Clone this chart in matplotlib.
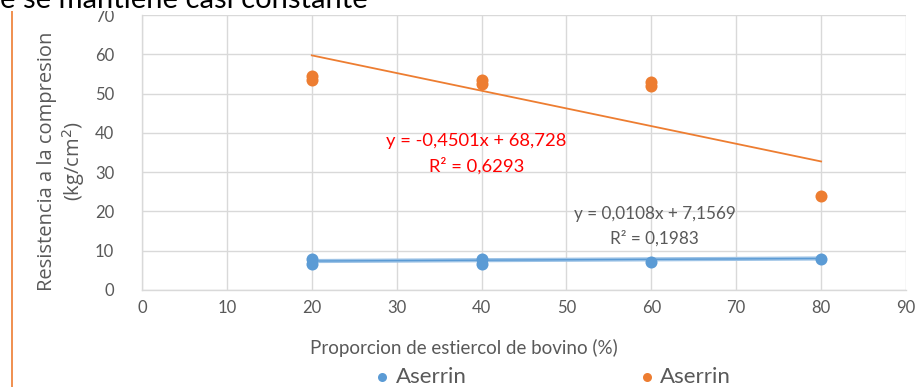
import matplotlib
matplotlib.use("Agg")
import matplotlib.pyplot as plt
import matplotlib.patches as mpatches
import numpy as np

plt.rcParams['font.family'] = ['Lato', 'DejaVu Sans']

# Data
x_blue = [20, 20, 40, 40, 60, 80]
y_blue = [6.6, 8.0, 6.6, 8.0, 7.1, 8.0]
x_orange = [20, 20, 40, 40, 60, 60, 80]
y_orange = [53.5, 54.5, 52.5, 53.5, 52.0, 53.0, 24.0]
trend_orange = (-0.4501, 68.728)
trend_blue = (0.0108, 7.1569)
trend_x = [20, 80]
eq_orange = ["y = -0,4501x + 68,728", "R² = 0,6293"]
eq_blue = ["y = 0,0108x + 7,1569", "R² = 0,1983"]
xticks = [0, 10, 20, 30, 40, 50, 60, 70, 80, 90]
yticks = [0, 10, 20, 30, 40, 50, 60, 70]

BLUE = '#5B9BD5'
ORANGE = '#ED7D31'
GRID = '#D9D9D9'
TXT = '#595959'

fig = plt.figure(figsize=(9.2, 3.87), dpi=100)
ax = fig.add_axes([142/920, 1-290/387, (906-142)/920, (290-15)/387])

ax.set_xlim(0, 90)
ax.set_ylim(0, 70)
ax.set_xticks(xticks)
ax.set_yticks(yticks)
ax.grid(True, color=GRID, linewidth=1)
ax.set_axisbelow(True)
for s in ['top', 'right']:
    ax.spines[s].set_visible(False)
for s in ['left', 'bottom']:
    ax.spines[s].set_color(GRID)
    ax.spines[s].set_linewidth(1)
ax.tick_params(length=0, colors=TXT, labelsize=12)
ax.tick_params(axis='y', pad=20)
ax.tick_params(axis='x', pad=7)

tx = np.array(trend_x, dtype=float)
ax.plot(tx, trend_blue[0]*tx + trend_blue[1], color='#9DC3E6', lw=3.0, zorder=2, solid_capstyle='butt')
ax.plot(tx, trend_blue[0]*tx + trend_blue[1], color=BLUE, lw=1.0, zorder=2, solid_capstyle='butt')
ax.plot(tx, trend_orange[0]*tx + trend_orange[1], color=ORANGE, lw=1.3, zorder=2)

hb = ax.scatter(x_blue, y_blue, s=75, color=BLUE, zorder=3, label='Aserrin', linewidths=0)
ho = ax.scatter(x_orange, y_orange, s=75, color=ORANGE, zorder=3, label='Aserrin', linewidths=0)

ax.text(39.4, 34.7, eq_orange[0] + "\n" + eq_orange[1], color='#FF0000', fontsize=13.2,
        ha='center', va='center', linespacing=1.6)
ax.text(60.4, 16.3, eq_blue[0] + "\n" + eq_blue[1], color=TXT, fontsize=12.3,
        ha='center', va='center', linespacing=1.6)

fig.text(464/920, 1-348/387, "Proporcion de estiercol de bovino (%)", color=TXT,
         fontsize=13.5, ha='center', va='center')
fig.text(62/920, 1-161/387, "Resistencia a la compresion\n(kg/cm$^2$)", color=TXT,
         fontsize=14.5, family=['Open Sans', 'DejaVu Sans'], rotation=90,
         ha='center', va='center', linespacing=1.2, multialignment='center')

fig.legend(handles=[hb, ho], labels=['Aserrin', 'Aserrin'], loc='center', ncol=2,
           bbox_to_anchor=(551/920, 1-377/387), frameon=False, fontsize=16,
           columnspacing=7.6, handletextpad=0.1, handlelength=1.0,
           labelcolor=TXT, markerscale=0.75)

# white band of the document text line above the chart
fig.add_artist(mpatches.Rectangle((0, 1-11/387), 1, 11/387, transform=fig.transFigure,
                                  facecolor='white', edgecolor='none', zorder=5))
fig.text(0.0, 1-8/387, "e se mantiene casi constante", fontsize=21, color='black',
         ha='left', va='baseline', zorder=6)
fig.add_artist(plt.Line2D([12/920, 12/920], [0, 1-11/387], color=ORANGE, lw=1.2,
                          transform=fig.transFigure))

fig.savefig("out.png", dpi=100)
